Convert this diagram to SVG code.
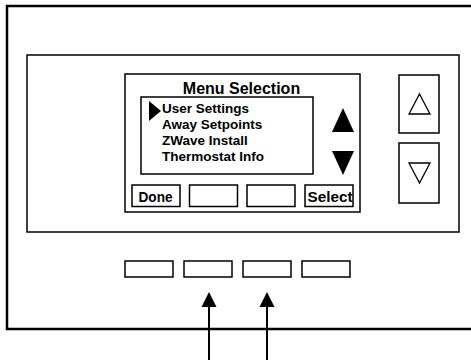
<svg xmlns="http://www.w3.org/2000/svg" width="471" height="360" viewBox="0 0 471 360">
<defs>
<style>
.b{fill:#fff;stroke:#000}
.t{font-family:"Liberation Sans",Arial,sans-serif;font-weight:bold;fill:#000}
</style>
</defs>
<rect width="471" height="360" fill="#fff"/>
<g id="housing"><rect class="b" x="7" y="6" width="480" height="323" stroke-width="2.5"/></g>
<g id="panel"><rect class="b" x="27" y="55" width="432" height="177" stroke-width="1.5"/></g>
<g id="screen">
<rect class="b" x="125" y="74" width="235" height="138" stroke-width="1.5"/>
<text class="t" x="241.5" y="94" font-size="16" text-anchor="middle">Menu Selection</text>
</g>
<g id="menu-list">
<rect class="b" x="141" y="97" width="172" height="77" stroke-width="1.5"/>
<polygon points="149,101 161,111 149,121" fill="#000"/>
<text class="t" x="162" y="112.5" font-size="13.5">User Settings</text>
<text class="t" x="162" y="128.5" font-size="13.5">Away Setpoints</text>
<text class="t" x="162" y="144.5" font-size="13.5">ZWave Install</text>
<text class="t" x="162" y="160.5" font-size="13.5">Thermostat Info</text>
</g>
<g id="scroll-indicators">
<polygon points="343,108 354,132 332,132" fill="#000"/>
<polygon points="332,151 354,151 343,175" fill="#000"/>
</g>
<g id="btn-done"><rect class="b" x="132" y="185" width="48" height="21.5" stroke-width="1.5"/><text class="t" x="155.5" y="201.5" font-size="14.5" text-anchor="middle" textLength="34" lengthAdjust="spacingAndGlyphs">Done</text></g>
<g id="btn-soft2"><rect class="b" x="189.5" y="185" width="48" height="21.5" stroke-width="1.5"/></g>
<g id="btn-soft3"><rect class="b" x="247" y="185" width="48" height="21.5" stroke-width="1.5"/></g>
<g id="btn-select"><rect class="b" x="305" y="185" width="48" height="21.5" stroke-width="1.5"/><text class="t" x="330" y="201.5" font-size="14.5" text-anchor="middle" textLength="45" lengthAdjust="spacingAndGlyphs">Select</text></g>
<g id="btn-up"><rect class="b" x="399" y="75" width="40" height="58" stroke-width="1.5"/><polygon points="419.5,94 430,114 409,114" fill="none" stroke="#000" stroke-width="1.3"/></g>
<g id="btn-down"><rect class="b" x="399" y="143" width="40" height="60" stroke-width="1.5"/><polygon points="409,163 430,163 419.5,183" fill="none" stroke="#000" stroke-width="1.3"/></g>
<g id="key1"><rect class="b" x="125" y="261" width="48" height="16" stroke-width="1.5"/></g>
<g id="key2"><rect class="b" x="184" y="261" width="48" height="16" stroke-width="1.5"/></g>
<g id="key3"><rect class="b" x="243" y="261" width="48" height="16" stroke-width="1.5"/></g>
<g id="key4"><rect class="b" x="302" y="261" width="48" height="16" stroke-width="1.5"/></g>
<g id="connectors" stroke="#000" stroke-width="2" fill="none">
<line x1="209" y1="360" x2="209" y2="306"/>
<polygon points="209,292 216.5,307 201.5,307" fill="#000" stroke="none"/>
<line x1="267" y1="360" x2="267" y2="306"/>
<polygon points="267,292 274.5,307 259.5,307" fill="#000" stroke="none"/>
</g>
</svg>
